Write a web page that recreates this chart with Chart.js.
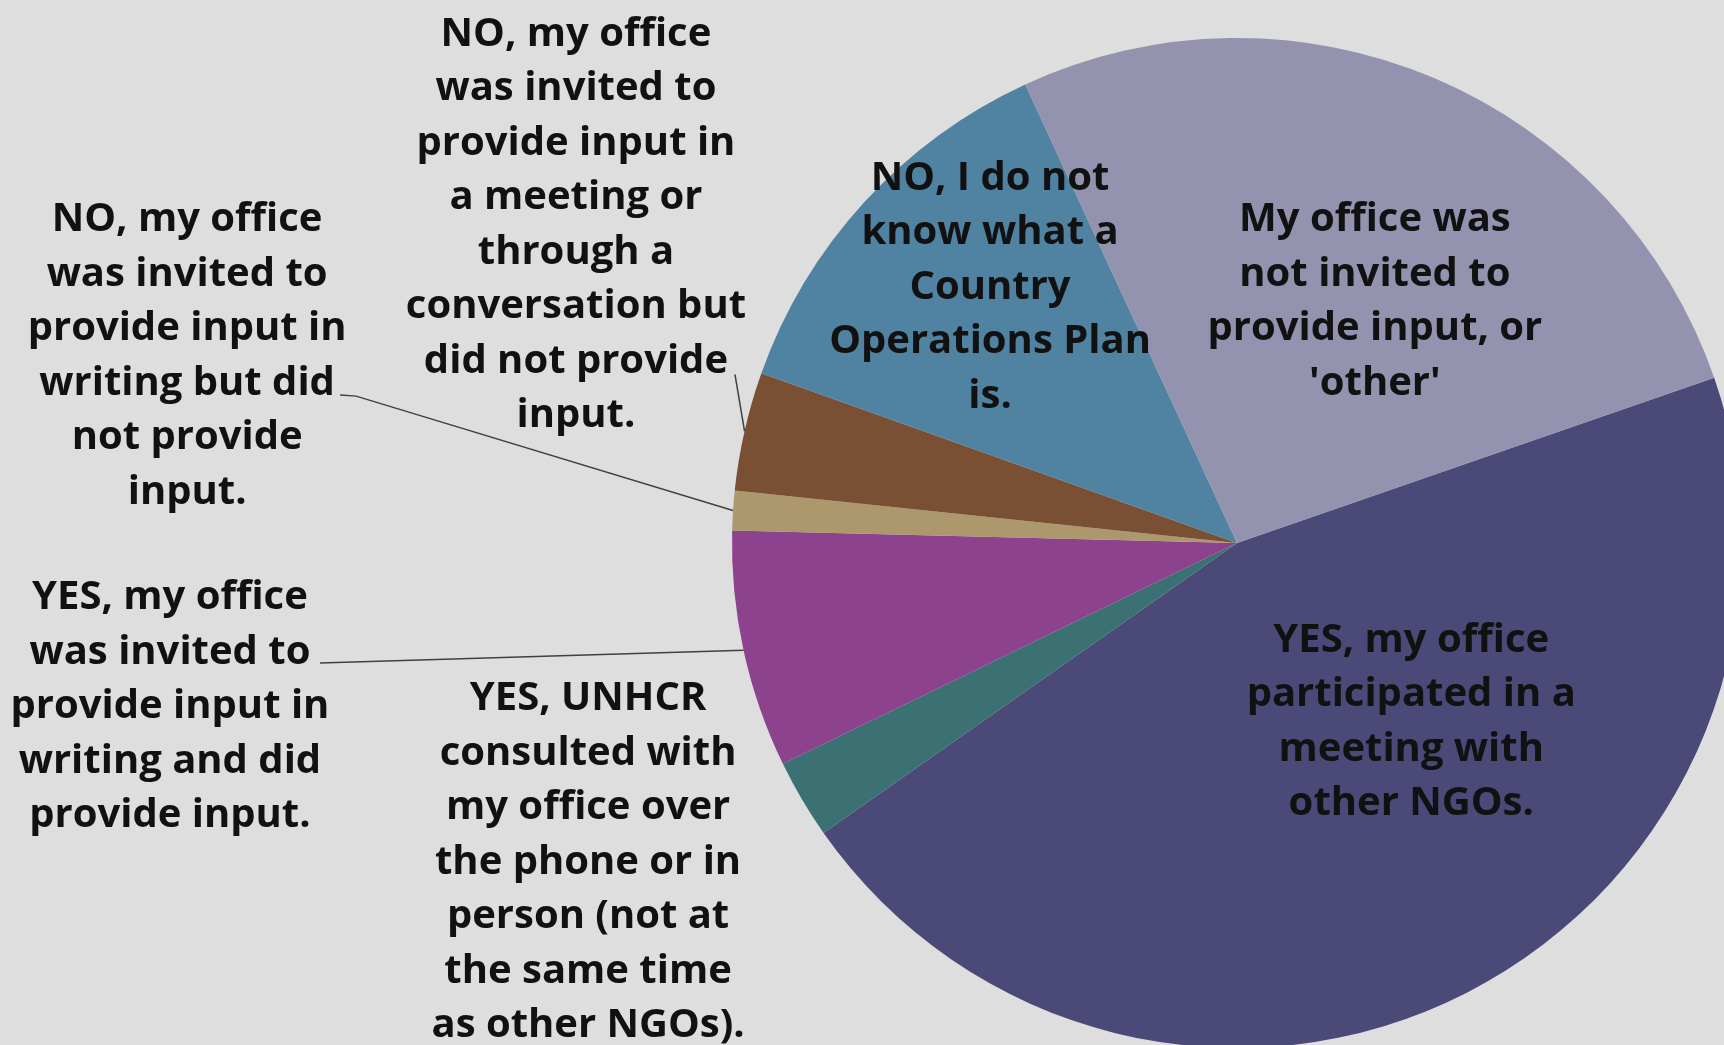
<!DOCTYPE html>
<html>
<head>
<meta charset="utf-8">
<script src="https://cdn.jsdelivr.net/npm/chart.js@4.4.0/dist/chart.umd.min.js"></script>
<style>
  html, body { margin: 0; padding: 0; background: #dedede; overflow: hidden; }
  #wrap { position: relative; width: 1724px; height: 1045px; overflow: hidden; }
  #pie { position: absolute; left: 0; top: 0; }
</style>
</head>
<body>
<div id="wrap"><canvas id="pie" width="1800" height="1100"></canvas></div>
<script>
// Survey answers, in the order the slices run clockwise
const categories = [
    "YES, my office participated in a meeting with other NGOs.",
    "YES, UNHCR consulted with my office over the phone or in person (not at the same time as other NGOs).",
    "YES, my office was invited to provide input in writing and did provide input.",
    "NO, my office was invited to provide input in writing but did not provide input.",
    "NO, my office was invited to provide input in a meeting or through a conversation but did not provide input.",
    "NO, I do not know what a Country Operations Plan is.",
    "My office was not invited to provide input, or 'other'"
];
const responses = [36, 2, 6, 1, 3, 10, 21];
const sliceColors = ['#4a4978', '#3c7173', '#8c428c', '#ad976c', '#7a5034', '#5082a2', '#9493af'];

// Wrapped label text, same breaks as the original
const labelLines = [
    ["YES, my office", "participated in a", "meeting with", "other NGOs."],
    ["YES, UNHCR", "consulted with", "my office over", "the phone or in", "person (not at", "the same time", "as other NGOs)."],
    ["YES, my office", "was invited to", "provide input in", "writing and did", "provide input."],
    ["NO, my office", "was invited to", "provide input in", "writing but did", "not provide", "input."],
    ["NO, my office", "was invited to", "provide input in", "a meeting or", "through a", "conversation but", "did not provide", "input."],
    ["NO, I do not", "know what a", "Country", "Operations Plan", "is."],
    ["My office was", "not invited to", "provide input, or", "'other'"]
];

// Label block centres, in pie radii from the pie centre
const labelOffsets = [
    [0.345, 0.349], [-1.285, 0.627], [-2.113, 0.319], [-2.079, -0.376],
    [-1.309, -0.635], [-0.489, -0.512], [0.273, -0.484]
];
// Leader line start, pixels from label centre (index -> [dx, dy, knee])
const leaders = { 2: [150, -41, 0], 3: [153, 42, 16], 4: [159, 152, 0] };

const LINE_H = 54.5;
const FONT_SIZE = 40;

const labelPlugin = {
    id: 'sliceLabels',
    afterDatasetsDraw(chart) {
        const ctx = chart.ctx;
        const arcs = chart.getDatasetMeta(0).data;
        const cx = arcs[0].x, cy = arcs[0].y, r = arcs[0].outerRadius;
        ctx.save();
        ctx.font = '700 ' + FONT_SIZE + 'px "Open Sans"';
        ctx.fillStyle = '#111';
        ctx.textAlign = 'center';
        ctx.textBaseline = 'alphabetic';
        labelLines.forEach((lines, i) => {
            const lx = cx + labelOffsets[i][0] * r;
            const ly = cy + labelOffsets[i][1] * r;
            const top = ly - (lines.length - 1) * LINE_H / 2;
            lines.forEach((t, k) => {
                ctx.fillText(t, lx, top + k * LINE_H + FONT_SIZE * 0.355);
            });
            if (leaders[i]) {
                const a = arcs[i];
                const mid = (a.startAngle + a.endAngle) / 2;
                const sx = lx + leaders[i][0], sy = ly + leaders[i][1];
                ctx.strokeStyle = '#404040';
                ctx.lineWidth = 1.5;
                ctx.beginPath();
                ctx.moveTo(sx, sy);
                if (leaders[i][2]) ctx.lineTo(sx + leaders[i][2], sy + 1);
                ctx.lineTo(cx + Math.cos(mid) * r, cy + Math.sin(mid) * r);
                ctx.stroke();
            }
        });
        ctx.restore();
    }
};

new Chart(document.getElementById('pie').getContext('2d'), {
    type: 'pie',
    data: {
        labels: categories,
        datasets: [{
            data: responses,
            backgroundColor: sliceColors,
            borderWidth: 0,
            hoverOffset: 0
        }]
    },
    options: {
        responsive: false,
        animation: false,
        events: [],
        rotation: 70.9,
        layout: { padding: { left: 732, top: 38, right: 58, bottom: 52 } },
        plugins: {
            legend: { display: false },
            tooltip: { enabled: false }
        }
    },
    plugins: [labelPlugin]
});
</script>
</body>
</html>
